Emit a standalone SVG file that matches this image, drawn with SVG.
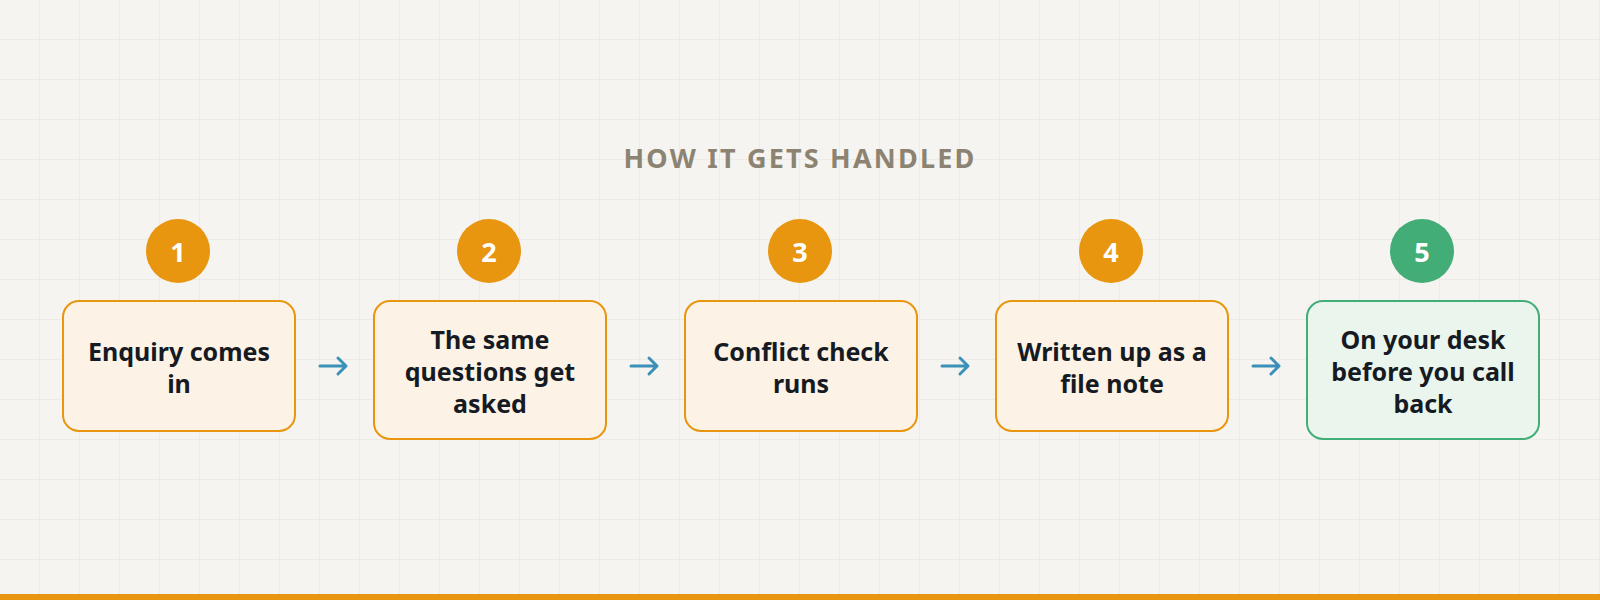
<svg xmlns="http://www.w3.org/2000/svg" width="1600" height="600" viewBox="0 0 1600 600">
<defs>
<pattern id="grid" width="40" height="40" patternUnits="userSpaceOnUse"><path d="M40 0V40H0" fill="none" stroke="#e6e3dd" stroke-width="1"/></pattern>
<style>
.box{fill:#fcf3e6;stroke:#e8960f;stroke-width:2}
.boxg{fill:#eaf5ee;stroke:#43ad78;stroke-width:2}
.num{fill:#e8960f}
.numg{fill:#43ad78}
.nt{font-family:"Noto Sans","Open Sans",sans-serif;font-weight:bold;font-size:27px;fill:#fff;text-anchor:middle;dominant-baseline:central}
.lb{font-family:"Noto Sans","Open Sans",sans-serif;font-weight:bold;font-size:25px;fill:#161a22;text-anchor:middle;dominant-baseline:central}
.ar{fill:none;stroke:#3a90b8;stroke-width:3;stroke-linecap:round;stroke-linejoin:round}
</style>
</defs>
<rect width="1600" height="600" fill="#f6f4f0"/>
<rect width="1600" height="600" fill="url(#grid)"/>
<rect x="0" y="594" width="1600" height="6" fill="#e8960f"/>
<text x="800" y="157" font-family="Noto Sans,Open Sans,sans-serif" font-weight="bold" font-size="27" fill="#8c8372" text-anchor="middle" dominant-baseline="central" letter-spacing="2.2">HOW IT GETS HANDLED</text>
<g id="connectors">
<path class="ar" d="M320 366H346M338 358L346 366L338 374"/>
<path class="ar" d="M631 366H657M649 358L657 366L649 374"/>
<path class="ar" d="M942 366H968M960 358L968 366L960 374"/>
<path class="ar" d="M1253 366H1279M1271 358L1279 366L1271 374"/>
</g>
<g id="n1"><circle class="num" cx="178" cy="251" r="32"/><text class="nt" x="178" y="251">1</text>
<rect class="box" x="63" y="301" width="232" height="130" rx="16"/><text class="lb" x="179" y="351">Enquiry comes</text><text class="lb" x="179" y="383">in</text></g>
<g id="n2"><circle class="num" cx="489" cy="251" r="32"/><text class="nt" x="489" y="251">2</text>
<rect class="box" x="374" y="301" width="232" height="138" rx="16"/><text class="lb" x="490" y="339">The same</text><text class="lb" x="490" y="371">questions get</text><text class="lb" x="490" y="403">asked</text></g>
<g id="n3"><circle class="num" cx="800" cy="251" r="32"/><text class="nt" x="800" y="251">3</text>
<rect class="box" x="685" y="301" width="232" height="130" rx="16"/><text class="lb" x="801" y="351">Conflict check</text><text class="lb" x="801" y="383">runs</text></g>
<g id="n4"><circle class="num" cx="1111" cy="251" r="32"/><text class="nt" x="1111" y="251">4</text>
<rect class="box" x="996" y="301" width="232" height="130" rx="16"/><text class="lb" x="1112" y="351">Written up as a</text><text class="lb" x="1112" y="383">file note</text></g>
<g id="n5"><circle class="numg" cx="1422" cy="251" r="32"/><text class="nt" x="1422" y="251">5</text>
<rect class="boxg" x="1307" y="301" width="232" height="138" rx="16"/><text class="lb" x="1423" y="339">On your desk</text><text class="lb" x="1423" y="371">before you call</text><text class="lb" x="1423" y="403">back</text></g>
</svg>
